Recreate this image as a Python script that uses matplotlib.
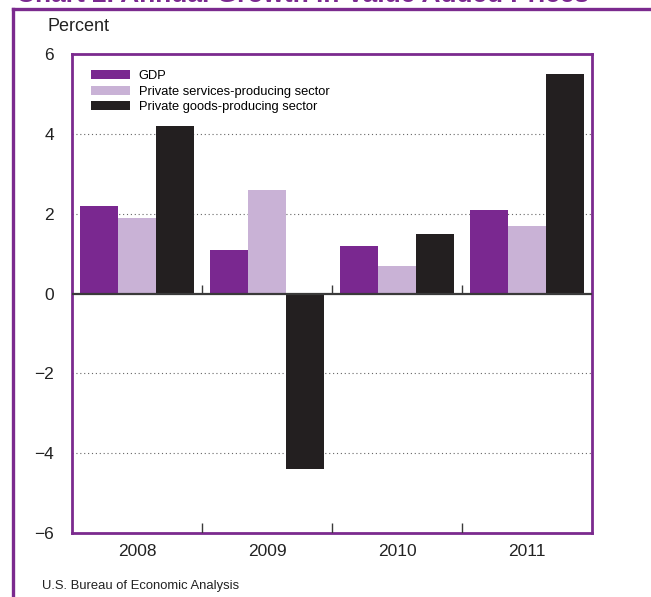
import numpy as np
import matplotlib as mpl
from matplotlib import pyplot as plt
from matplotlib.lines import Line2D

mpl.rcParams['font.family'] = ['Liberation Sans', 'DejaVu Sans']

years = ['2008', '2009', '2010', '2011']
series = ['GDP', 'Private services-producing sector', 'Private goods-producing sector']
gdp = [2.2, 1.1, 1.2, 2.1]
services = [1.9, 2.6, 0.7, 1.7]
goods = [4.2, -4.4, 1.5, 5.5]
yticks = [-6, -4, -2, 0, 2, 4, 6]
ytick_labels = ['\u22126', '\u22124', '\u22122', '0', '2', '4', '6']

PURPLE = '#7a2890'
LILAC = '#c9b2d6'
BLACK = '#231f20'
FRAME = '#7b2a8e'

fig = plt.figure(figsize=(6.51, 5.97), dpi=100)
ax = fig.add_axes([0.1106, 0.1072, 0.7988, 0.8023])

x = np.arange(len(years))
w = 0.29
for i, (vals, color, name) in enumerate(zip([gdp, services, goods],
                                            [PURPLE, LILAC, BLACK], series)):
    ax.bar(x + (i - 1) * w, vals, width=w, color=color, label=name, zorder=2)

ax.set_xlim(-0.5, 3.5)
ax.set_ylim(-6, 6)

# dotted gridlines
for y in [-4, -2, 2, 4]:
    ax.axhline(y, color='#666666', linestyle=(0, (1, 2.5)), linewidth=0.8, zorder=1)
ax.axhline(0, color='#3a3a3a', linewidth=1.6, zorder=3)

# separators between years
seps = x[:-1] + 0.5
ax.vlines(seps, -6, -5.75, color='#3a3a3a', linewidth=1.0, zorder=3)
ax.vlines(seps, 0, 0.22, color='#3a3a3a', linewidth=1.0, zorder=3)

ax.set_xticks(x)
ax.set_xticklabels(years, fontsize=12.5)
ax.set_yticks(yticks)
ax.set_yticklabels(ytick_labels, fontsize=12.5)
ax.tick_params(axis='both', length=0, colors='#222222')
ax.tick_params(axis='x', pad=8)
ax.tick_params(axis='y', pad=13)
for s in ax.spines.values():
    s.set_color(FRAME)
    s.set_linewidth(2.0)

ax.legend(loc='upper left', bbox_to_anchor=(0.02, 0.985), frameon=False,
          fontsize=9.3, handlelength=2.95, handleheight=0.7, handletextpad=0.7,
          labelspacing=0.25, borderaxespad=0.3)

fig.text(0.073, 0.948, 'Percent', fontsize=13, color='#222222')
fig.text(0.064, 0.013, 'U.S. Bureau of Economic Analysis', fontsize=9.4,
         family=['Liberation Sans Narrow', 'Liberation Sans'], color='#222222')

# chart title (cropped at the top edge, as in the source) and outer frame
fig.text(0.024, 0.9968, 'Chart 2. Annual Growth in Value Added Prices',
         fontsize=18.9, fontweight='bold', color=PURPLE, va='baseline')
fig.add_artist(Line2D([0.020, 1.0], [1 - 9 / 597, 1 - 9 / 597], color=FRAME, linewidth=2.4))
fig.add_artist(Line2D([0.020, 0.020], [0, 1 - 9 / 597], color=FRAME, linewidth=2.4))

plt.savefig('out.png', dpi=100)
